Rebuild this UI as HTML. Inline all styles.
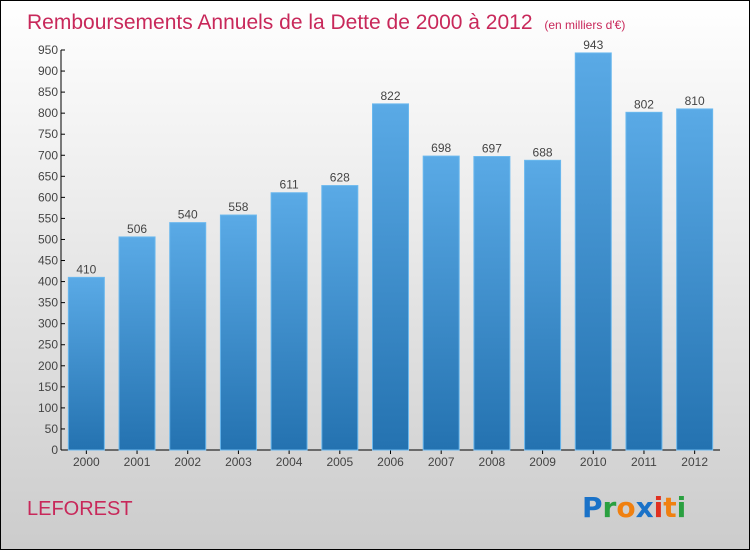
<!DOCTYPE html>
<html><head><meta charset="utf-8"><style>
html,body{margin:0;padding:0;}
body{width:750px;height:550px;overflow:hidden;font-family:"Liberation Sans",sans-serif;}
</style></head><body>
<svg id="chart" width="750" height="550" xmlns="http://www.w3.org/2000/svg">
<defs>
<linearGradient id="bg" x1="0" y1="0" x2="0" y2="1"><stop offset="0" stop-color="#ffffff"/><stop offset="1" stop-color="#cccccc"/></linearGradient>
<linearGradient id="bar" x1="0" y1="0" x2="0" y2="1"><stop offset="0" stop-color="#5aaae6"/><stop offset="1" stop-color="#2472b0"/></linearGradient>
</defs>
<rect x="0.5" y="0.5" width="749" height="549" fill="url(#bg)" stroke="#000" stroke-width="1"/>
<text x="27" y="29" font-size="21" fill="#c8285a">Remboursements Annuels de la Dette de 2000 à 2012 <tspan font-size="12" dx="6">(en milliers d'€)</tspan></text>
<text x="27" y="515" font-size="20" fill="#c8285a">LEFOREST</text>
<g font-size="28" font-weight="bold" font-family="'DejaVu Sans',sans-serif">
<text x="582" y="517" fill="#1a72c8">P<tspan fill="#2aa040">r</tspan><tspan fill="#f08010">o</tspan><tspan fill="#1a72c8">x</tspan><tspan fill="#e03020">i</tspan><tspan fill="#f08010">t</tspan><tspan fill="#2aa040">i</tspan></text>
</g>
<g id="axes"></g><g id="bars"></g>
</svg>
<script>
const categories=["2000","2001","2002","2003","2004","2005","2006","2007","2008","2009","2010","2011","2012"];
const values=[410,506,540,558,611,628,822,698,697,688,943,802,810];
const yTicks=[0,50,100,150,200,250,300,350,400,450,500,550,600,650,700,750,800,850,900,950];
const NS="http://www.w3.org/2000/svg";
const x0=61,x1=720,yTop=50,yBot=450,yMax=950;
const y=v=>yBot-(v/yMax)*(yBot-yTop);
const step=(x1-x0)/categories.length;
const xc=i=>x0+step*(i+0.5);
function mk(t,a,p){const e=document.createElementNS(NS,t);for(const k in a)e.setAttribute(k,a[k]);p.appendChild(e);return e;}
const ax=document.getElementById('axes'),bg=document.getElementById('bars');
const yl=mk('line',{x1:x0,y1:yTop,x2:x0,y2:yBot,stroke:'#000'},ax);


const xl=mk('line',{x1:x0,y1:yBot,x2:x1,y2:yBot,stroke:'#000'},ax);


yTicks.forEach(v=>{
 const tk=mk('line',{x1:x0,y1:y(v),x2:x0+4,y2:y(v),stroke:'#000'},ax);
 
 
 const t=mk('text',{x:x0-3,y:y(v)+4,'font-size':12,fill:'#444','text-anchor':'end'},ax);
 t.textContent=v;
 
 
});
categories.forEach((c,i)=>{
 const w=36,cx=xc(i);
 const r=mk('rect',{x:cx-w/2,y:y(values[i]),width:w,height:yBot-y(values[i]),fill:'url(#bar)',stroke:'#6ab8ee','stroke-width':1},bg);
 
 
 const tk=mk('line',{x1:cx,y1:yBot,x2:cx,y2:yBot+4,stroke:'#000'},ax);
 
 
 const t=mk('text',{x:cx,y:yBot+16,'font-size':12,fill:'#444','text-anchor':'middle'},ax);
 t.textContent=c;
 
 
 const l=mk('text',{x:cx,y:y(values[i])-4,'font-size':12,fill:'#444','text-anchor':'middle'},bg);
 l.textContent=values[i];
 
 
});
</script>
</body></html>
